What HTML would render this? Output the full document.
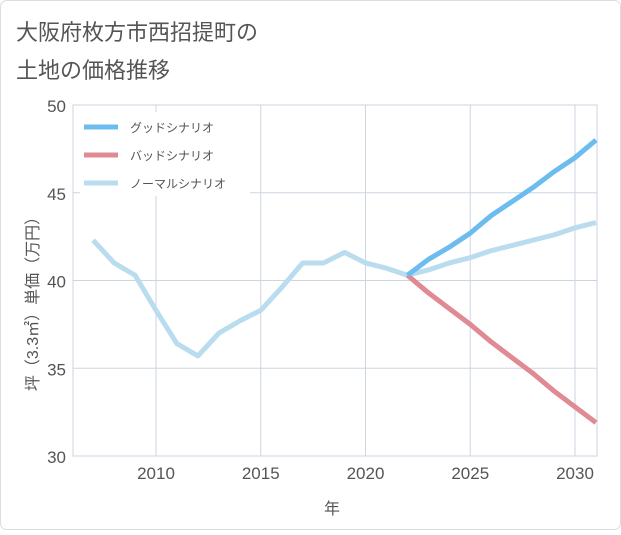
<!DOCTYPE html>
<html><head><meta charset="utf-8">
<style>
body{margin:0;background:#fff;font-family:"Liberation Sans","Noto Sans CJK JP",sans-serif;}
#wrap{position:relative;width:621px;height:530px;}
</style></head><body>
<div id="wrap">
<svg id="chart" width="621" height="530" xmlns="http://www.w3.org/2000/svg">
<rect x="0.5" y="0.5" width="620" height="529" rx="6" fill="#fff" stroke="#ddd"/>
<text x="16" y="40" font-size="22" fill="#555">大阪府枚方市西招提町の</text>
<text x="16" y="78" font-size="22" fill="#555">土地の価格推移</text>
<g id="grid"></g><g id="series"></g><g id="axes"></g>
<text x="332" y="514" font-size="16" fill="#555" text-anchor="middle">年</text>
<text transform="translate(38,300) rotate(-90)" font-size="16" fill="#555" text-anchor="middle">坪（3.3㎡）単価（万円）</text>
<g>
<rect x="80" y="112" width="170" height="84" fill="#fff"/>
<line x1="84" y1="127" x2="118" y2="127" stroke="#6cbcf0" stroke-width="5"/>
<text x="130" y="132" font-size="12" fill="#555">グッドシナリオ</text>
<line x1="84" y1="155" x2="118" y2="155" stroke="#e08a94" stroke-width="5"/>
<text x="130" y="160" font-size="12" fill="#555">バッドシナリオ</text>
<line x1="84" y1="183" x2="118" y2="183" stroke="#b9dcef" stroke-width="5"/>
<text x="130" y="188" font-size="12" fill="#555">ノーマルシナリオ</text>
</g>
</svg>
</div>
<script>
const normalYears=[2007,2008,2009,2010,2011,2012,2013,2014,2015,2016,2017,2018,2019,2020,2021,2022,2023,2024,2025,2026,2027,2028,2029,2030,2031];
const normalValues=[42.3,41.0,40.3,38.3,36.4,35.7,37.0,37.7,38.3,39.6,41.0,41.0,41.6,41.0,40.7,40.3,40.6,41.0,41.3,41.7,42.0,42.3,42.6,43.0,43.3];
const scenarioYears=[2022,2023,2024,2025,2026,2027,2028,2029,2030,2031];
const goodValues=[40.3,41.2,41.9,42.7,43.7,44.5,45.3,46.2,47.0,48.0];
const badValues=[40.3,39.3,38.4,37.5,36.5,35.6,34.7,33.7,32.8,31.9];
const xTicks=[2010,2015,2020,2025,2030];
const yTicks=[30,35,40,45,50];
const X0=73,X1=597,Y0=105,Y1=456;
const xs=y=>156+(y-2010)*(575-156)/20;
const ys=v=>Y1-(v-30)*(Y1-Y0)/20;
const NS="http://www.w3.org/2000/svg";
function mk(tag,attrs,parent){const e=document.createElementNS(NS,tag);for(const k in attrs)e.setAttribute(k,attrs[k]);parent.appendChild(e);return e;}
const grid=document.getElementById('grid'),axes=document.getElementById('axes'),ser=document.getElementById('series');
mk('rect',{x:X0,y:Y0,width:X1-X0,height:Y1-Y0,fill:'none',stroke:'#ccd6e0'},grid);
yTicks.forEach(t=>{const l=mk('line',{x1:X0,x2:X1,y1:ys(t),y2:ys(t),stroke:'#ccd6e0'},grid);


const tx=mk('text',{x:66,y:ys(t)+7,'font-size':17,fill:'#555','text-anchor':'end'},axes);tx.textContent=t;

});
xTicks.forEach(t=>{const l=mk('line',{x1:xs(t),x2:xs(t),y1:Y0,y2:Y1,stroke:'#ccd6e0'},grid);


const tx=mk('text',{x:xs(t),y:479,'font-size':17,fill:'#555','text-anchor':'middle'},axes);tx.textContent=t;

});
function line(years,vals,color,name){const p=mk('polyline',{points:years.map((y,i)=>xs(y)+','+ys(vals[i])).join(' '),fill:'none',stroke:color,'stroke-width':5,'stroke-linejoin':'round'},ser);

}
line(normalYears,normalValues,'#b9dcef','normal-scenario-line');
line(scenarioYears,badValues,'#e08a94','bad-scenario-line');
line(scenarioYears,goodValues,'#6cbcf0','good-scenario-line');
</script>
</body></html>
